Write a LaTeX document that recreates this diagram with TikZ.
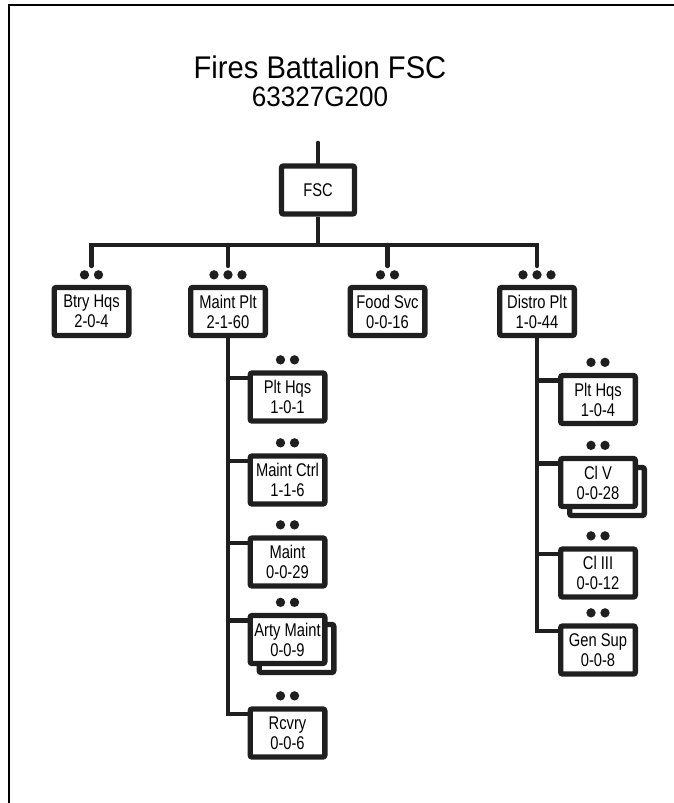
\documentclass[tikz,border=0pt]{standalone}
\usepackage{fontspec}
\setmainfont{Liberation Sans}
\newfontfamily\boxfont[FakeStretch=0.8]{Liberation Sans}
\newfontfamily\headfont[FakeStretch=0.93]{Liberation Sans}
\usetikzlibrary{calc}
\begin{document}
\begin{tikzpicture}[x=0.75pt,y=-0.75pt,
  unitbox/.style={draw=black!88, line width=4pt, fill=white, rounded corners=1.5pt,
    minimum width=56pt, minimum height=36pt, inner sep=0pt, align=center,
    font=\boxfont\fontsize{13.8}{15}\selectfont},
  conn/.style={draw=black!88, line width=3.5pt},
  dot/.style={fill=black!88},
  frame/.style={draw=black, line width=2.2pt},
  titlefont/.style={font=\headfont\fontsize{23.5}{26}\selectfont},
  subfont/.style={font=\headfont\fontsize{21}{23}\selectfont}]
\useasboundingbox (0,0) rectangle (674,803);
% frame
\draw[frame] (9,803) -- (9,5) -- (674,5);
% title
\node[titlefont, anchor=base] (title) at (320,78) {Fires Battalion FSC};
\node[subfont, anchor=base] (subtitle) at (320,106) {63327G200};
% top
\node[unitbox, minimum width=54.75pt] (fsc) at (318,190) {FSC};
\coordinate (fsctop) at (318,143);
\coordinate (bus) at (0,245);
\node[unitbox] (btry) at (91.5,311.5) {Btry Hqs\\2-0-4};
\node[unitbox] (mplt) at (228,311.5) {Maint Plt\\2-1-60};
\node[unitbox] (food) at (387.5,311.5) {Food Svc\\0-0-16};
\node[unitbox] (distro) at (537,311.5) {Distro Plt\\1-0-44};
% maint subs
\node[unitbox] (mhq) at (287.5,397) {Plt Hqs\\1-0-1};
\node[unitbox] (mctrl) at (287.5,480) {Maint Ctrl\\1-1-6};
\node[unitbox] (mnt) at (287.5,562) {Maint\\0-0-29};
\node[unitbox] (artysh) at (296.5,648.5) {};
\node[unitbox] (arty) at (287.5,639.5) {Arty Maint\\0-0-9};
\node[unitbox] (rcvry) at (287.5,733) {Rcvry\\0-0-6};
% distro subs
\node[unitbox] (dhq) at (598,399.5) {Plt Hqs\\1-0-4};
\node[unitbox] (clvsh) at (607,491.5) {};
\node[unitbox] (clv) at (598,482.5) {Cl V\\0-0-28};
\node[unitbox] (cliii) at (598,573) {Cl III\\0-0-12};
\node[unitbox] (gensup) at (598,650) {Gen Sup\\0-0-8};
% connectors top
\draw[conn, line cap=round] (fsctop) -- (fsc.north);
\draw[conn] (fsc.south) -- (fsc.south |- bus);
\coordinate (btrytop) at ($(btry.north)+(0,-19)$);
\coordinate (mplttop) at ($(mplt.north)+(0,-19)$);
\coordinate (foodtop) at ($(food.north)+(0,-19)$);
\coordinate (distrotop) at ($(distro.north)+(0,-19)$);
\draw[conn, line cap=round] (btrytop) -- (btry.north |- bus) -- (distro.north |- bus) -- (distrotop);
\draw[conn, line cap=round] (mplt.north |- bus) -- (mplttop);
\draw[conn, line cap=round] (food.north |- bus) -- (foodtop);
% dots top level
\foreach \n in {btry,food}{
  \fill[dot] ($(\n.north)+(-7,-10)$) circle (3.5pt);
  \fill[dot] ($(\n.north)+(7,-10)$) circle (3.5pt);
}
\foreach \n in {mplt,distro}{
  \fill[dot] ($(\n.north)+(-14,-10)$) circle (3.5pt);
  \fill[dot] ($(\n.north)+(0,-10)$) circle (3.5pt);
  \fill[dot] ($(\n.north)+(14,-10)$) circle (3.5pt);
}
\foreach \n in {mhq,mctrl,mnt,arty,rcvry,dhq,clv,cliii,gensup}{
  \fill[dot] ($(\n.north)+(-7,-10.5)$) circle (3.5pt);
  \fill[dot] ($(\n.north)+(7,-10.5)$) circle (3.5pt);
}
% maint branches
\foreach \n in {mhq,mctrl,mnt,arty,rcvry}{
  \coordinate (\n b) at ($(\n.north west)+(0,7.5)$);
}
\draw[conn] (mplt.south) |- (rcvryb);
\foreach \n in {mhq,mctrl,mnt,arty}{
  \draw[conn] (mplt.south |- \n b) -- (\n b);
}
% distro branches
\foreach \n in {dhq,clv,cliii,gensup}{
  \coordinate (\n b) at ($(\n.north west)+(0,7.5)$);
}
\draw[conn] (distro.south) |- (gensupb);
\foreach \n in {dhq,clv,cliii}{
  \draw[conn] (distro.south |- \n b) -- (\n b);
}
\end{tikzpicture}
\end{document}
